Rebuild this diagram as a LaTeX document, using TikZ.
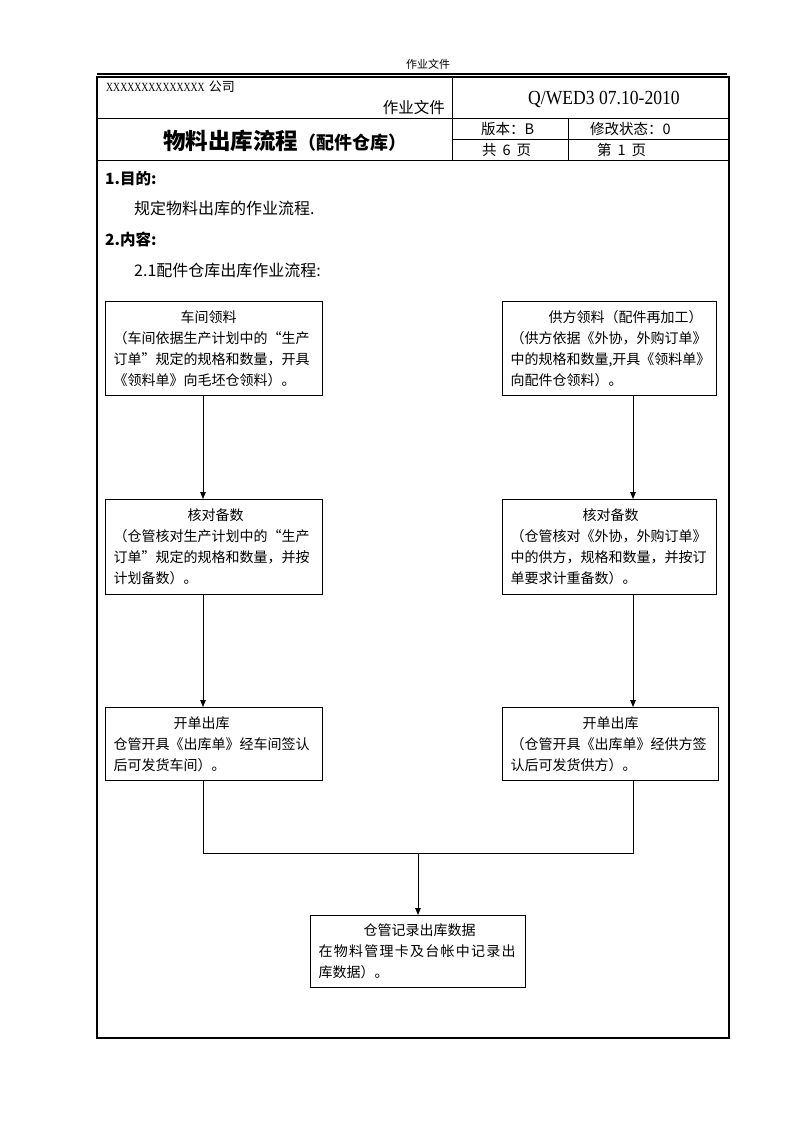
\documentclass[tikz,border=0pt]{standalone}
\usepackage{fontspec}
\usepackage{graphicx}
\setmainfont{Noto Sans CJK SC}
\newfontfamily\latinserif{Liberation Serif}
\usetikzlibrary{arrows.meta}
\begin{document}
\begin{tikzpicture}[x=1pt,y=-1pt,
  box/.style={draw, line width=1.1pt, anchor=north west, inner xsep=8pt, inner ysep=0pt,
    align=left, font=\fontsize{14}{21}\selectfont},
  arr/.style={line width=0.9pt,-{Triangle[length=7pt,width=5.5pt]}},
  ln/.style={line width=0.9pt},
  frame/.style={line width=1.3pt},
  rule/.style={line width=0.9pt},
  txt/.style={inner sep=0pt, anchor=west}]
\useasboundingbox (0,0) rectangle (793,1122);
\fill[white] (0,0) rectangle (793,1122);

% page header
\node[inner sep=0pt] (hdr) at (428,64) {\fontsize{11}{13}\selectfont 作业文件};
\draw[line width=1.1pt] (97,74) -- (727,74);

% table frame
\draw[frame] (97,77) rectangle (729,1038);
\draw[rule] (97,118) -- (729,118);
\draw[rule] (97,160) -- (729,160);
\draw[rule] (452,77) -- (452,160);
\draw[rule] (452,139) -- (729,139);
\draw[rule] (568,118) -- (568,160);

% header texts
\node[txt] (company) at (106,87) {\scalebox{0.78}[1]{\latinserif\fontsize{12.5}{14}\selectfont XXXXXXXXXXXXXX}\hspace{4pt}{\fontsize{13}{15}\selectfont 公司}};
\node[inner sep=0pt, anchor=east] (doctype) at (445,108) {\fontsize{15.5}{17}\selectfont 作业文件};
\node[inner sep=0pt] (code) at (604,99) {\scalebox{0.88}[1]{\latinserif\fontsize{20}{22}\selectfont Q/WED3 07.10-2010}};
\node[txt] (title) at (163,141) {\fontsize{22.5}{24}\selectfont\bfseries 物料出库流程{\fontsize{18}{20}\selectfont （配件仓库）}};
\node[txt] (ver) at (481,129) {\fontsize{14.5}{16}\selectfont 版本：B};
\node[txt] (stat) at (590,129) {\fontsize{14.5}{16}\selectfont 修改状态：0};
\node[txt] (pages) at (482,150) {\fontsize{14.5}{16}\selectfont 共\hspace{6pt}6\hspace{6pt}页};
\node[txt] (page) at (597,150) {\fontsize{14.5}{16}\selectfont 第\hspace{6pt}1\hspace{6pt}页};

% body texts
\node[txt] (s1) at (105,179) {\fontsize{15.5}{18}\selectfont\bfseries 1.目的:};
\node[txt] (s1t) at (134,208) {\fontsize{16}{18}\selectfont 规定物料出库的作业流程.};
\node[txt] (s2) at (105,240) {\fontsize{15.5}{18}\selectfont\bfseries 2.内容:};
\node[txt] (s2t) at (134,270) {\fontsize{16}{18}\selectfont 2.1配件仓库出库作业流程:};

% flow boxes
\node[box, minimum width=217pt, minimum height=94pt, text width=201pt] (L1) at (105,301)
  {\hspace*{67pt}车间领料\\（车间依据生产计划中的“生产\\订单”规定的规格和数量，开具\\《领料单》向毛坯仓领料）。};
\node[box, minimum width=214pt, minimum height=94pt, text width=198pt] (R1) at (502,301)
  {\hspace*{38pt}供方领料（配件再加工）\\（供方依据《外协，外购订单》\\中的规格和数量,开具《领料单》\\向配件仓领料）。};
\node[box, minimum width=217pt, minimum height=95pt, text width=201pt] (L2) at (105,499)
  {\hspace*{74pt}核对备数\\（仓管核对生产计划中的“生产\\订单”规定的规格和数量，并按\\计划备数）。};
\node[box, minimum width=214pt, minimum height=95pt, text width=198pt] (R2) at (502,499)
  {\hspace*{72pt}核对备数\\（仓管核对《外协，外购订单》\\中的供方，规格和数量，并按订\\单要求计重备数）。};
\node[box, minimum width=217pt, minimum height=73pt, text width=201pt] (L3) at (105,707)
  {\hspace*{60pt}开单出库\\仓管开具《出库单》经车间签认\\后可发货车间）。};
\node[box, minimum width=216pt, minimum height=73pt, text width=200pt] (R3) at (502,707)
  {\hspace*{72pt}开单出库\\（仓管开具《出库单》经供方签\\认后可发货供方）。};
\node[box, minimum width=215pt, minimum height=72pt, text width=199pt] (B) at (310,915)
  {\hspace*{45pt}仓管记录出库数据\\{\addfontfeature{LetterSpace=9}在物料管理卡及台帐中记录出}\\库数据）。};

% connectors
\coordinate (lx) at (203,0);
\coordinate (rx) at (633,0);
\coordinate (j) at (418,853);
\draw[arr] (L1.south -| lx) -- (L2.north -| lx);
\draw[arr] (R1.south -| rx) -- (R2.north -| rx);
\draw[arr] (L2.south -| lx) -- (L3.north -| lx);
\draw[arr] (R2.south -| rx) -- (R3.north -| rx);
\draw[ln] (L3.south -| lx) |- (j) -| (R3.south -| rx);
\draw[arr] (j) -- (B.north -| j);
\end{tikzpicture}
\end{document}
